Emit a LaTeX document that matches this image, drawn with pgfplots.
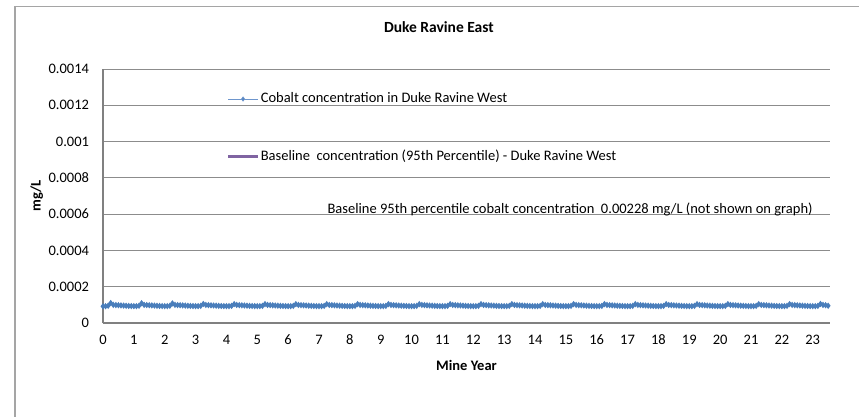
\documentclass[border=0pt]{standalone}
\usepackage{pgfplots}
\pgfplotsset{compat=1.18}
\usepackage{fontspec}
\setmainfont{Carlito}
\definecolor{cobalt}{RGB}{74,126,187}
\definecolor{cobaltlight}{RGB}{110,150,205}
\definecolor{baseline}{RGB}{128,100,162}
\definecolor{gridgray}{RGB}{140,140,140}
\definecolor{axisgray}{RGB}{128,128,128}
\definecolor{framegray}{RGB}{165,165,165}
\pgfplotsset{
    markline legend/.style={legend image code/.code={\draw[##1,draw=cobaltlight,line width=0.8pt,mark size=2pt,mark repeat=2,mark phase=2] plot coordinates {(0pt,0pt)(15pt,0pt)(30pt,0pt)};}},
    thickline legend/.style={legend image code/.code={\draw[##1] (0pt,0pt) -- (30pt,0pt);}},
}

\begin{document}
\fontsize{14.5}{17}\selectfont
\begin{tikzpicture}
\begin{axis}[
    at={(0pt,0pt)}, anchor=south west,
    scale only axis,
    width=727pt, height=254pt,
    xmin=0, xmax=23.56,
    ymin=0, ymax=0.0014,
    xtick={0,1,...,23},
    ytick={0,0.0002,0.0004,0.0006,0.0008,0.001,0.0012,0.0014},
    yticklabels={0,0.0002,0.0004,0.0006,0.0008,0.001,0.0012,0.0014},
    scaled y ticks=false,
    /pgf/number format/assume math mode=true,
    major tick length=0pt,
    axis lines*=left,
    axis line style={draw=axisgray, line width=1.6pt},
    ymajorgrids,
    major grid style={draw=gridgray, line width=0.8pt},
    xticklabel style={yshift=-6.5pt, text height=9.5pt, text depth=0pt},
    yticklabel style={xshift=-9pt},
    title={Duke Ravine East},
    title style={font=\bfseries\fontsize{15.5}{18}\selectfont, at={(axis description cs:0.462,1.14)}, anchor=center},
    xlabel={Mine Year},
    xlabel style={font=\bfseries, at={(axis description cs:0.5,-0.169)}, anchor=center},
    ylabel={mg/L},
    ylabel style={font=\bfseries, at={(axis description cs:-0.091,0.5)}, anchor=center, rotate=0},
    legend cell align=left,
    legend style={at={(axis description cs:0.17,0.768)}, anchor=west,
        draw=none, fill=none, inner sep=0pt, row sep=42pt,
        nodes={inner sep=1.5pt, anchor=west}},
]
\addplot[color=cobalt, line width=1pt, mark=diamond*, mark size=2.4pt, markline legend]
coordinates {
(0,9.2e-5)(0.083,9.25e-5)(0.167,9.5e-5)(0.25,1.1e-4)(0.333,1.0e-4)(0.417,9.9e-5)(0.5,9.8e-5)(0.583,9.7e-5)(0.667,9.6e-5)(0.75,9.5e-5)(0.833,9.4e-5)(0.917,9.35e-5)
(1,9.3e-5)(1.083,9.3e-5)(1.167,9.5e-5)(1.25,1.09e-4)(1.333,1.0e-4)(1.417,9.9e-5)(1.5,9.8e-5)(1.583,9.7e-5)(1.667,9.6e-5)(1.75,9.5e-5)(1.833,9.4e-5)(1.917,9.35e-5)
(2,9.3e-5)(2.083,9.3e-5)(2.167,9.5e-5)(2.25,1.08e-4)(2.333,1.0e-4)(2.417,9.9e-5)(2.5,9.8e-5)(2.583,9.7e-5)(2.667,9.6e-5)(2.75,9.5e-5)(2.833,9.4e-5)(2.917,9.35e-5)
(3,9.3e-5)(3.083,9.3e-5)(3.167,9.45e-5)(3.25,1.05e-4)(3.333,9.95e-5)(3.417,9.85e-5)(3.5,9.75e-5)(3.583,9.65e-5)(3.667,9.55e-5)(3.75,9.45e-5)(3.833,9.38e-5)(3.917,9.32e-5)
(4,9.3e-5)(4.083,9.3e-5)(4.167,9.45e-5)(4.25,1.04e-4)(4.333,9.95e-5)(4.417,9.85e-5)(4.5,9.75e-5)(4.583,9.65e-5)(4.667,9.55e-5)(4.75,9.45e-5)(4.833,9.38e-5)(4.917,9.32e-5)
(5,9.3e-5)(5.083,9.3e-5)(5.167,9.45e-5)(5.25,1.04e-4)(5.333,9.95e-5)(5.417,9.85e-5)(5.5,9.75e-5)(5.583,9.65e-5)(5.667,9.55e-5)(5.75,9.45e-5)(5.833,9.38e-5)(5.917,9.32e-5)
(6,9.3e-5)(6.083,9.3e-5)(6.167,9.45e-5)(6.25,1.04e-4)(6.333,9.95e-5)(6.417,9.85e-5)(6.5,9.75e-5)(6.583,9.65e-5)(6.667,9.55e-5)(6.75,9.45e-5)(6.833,9.38e-5)(6.917,9.32e-5)
(7,9.3e-5)(7.083,9.3e-5)(7.167,9.45e-5)(7.25,1.04e-4)(7.333,9.95e-5)(7.417,9.85e-5)(7.5,9.75e-5)(7.583,9.65e-5)(7.667,9.55e-5)(7.75,9.45e-5)(7.833,9.38e-5)(7.917,9.32e-5)
(8,9.3e-5)(8.083,9.3e-5)(8.167,9.45e-5)(8.25,1.04e-4)(8.333,9.95e-5)(8.417,9.85e-5)(8.5,9.75e-5)(8.583,9.65e-5)(8.667,9.55e-5)(8.75,9.45e-5)(8.833,9.38e-5)(8.917,9.32e-5)
(9,9.3e-5)(9.083,9.3e-5)(9.167,9.45e-5)(9.25,1.04e-4)(9.333,9.95e-5)(9.417,9.85e-5)(9.5,9.75e-5)(9.583,9.65e-5)(9.667,9.55e-5)(9.75,9.45e-5)(9.833,9.38e-5)(9.917,9.32e-5)
(10,9.3e-5)(10.083,9.3e-5)(10.167,9.45e-5)(10.25,1.04e-4)(10.333,9.95e-5)(10.417,9.85e-5)(10.5,9.75e-5)(10.583,9.65e-5)(10.667,9.55e-5)(10.75,9.45e-5)(10.833,9.38e-5)(10.917,9.32e-5)
(11,9.3e-5)(11.083,9.3e-5)(11.167,9.45e-5)(11.25,1.04e-4)(11.333,9.95e-5)(11.417,9.85e-5)(11.5,9.75e-5)(11.583,9.65e-5)(11.667,9.55e-5)(11.75,9.45e-5)(11.833,9.38e-5)(11.917,9.32e-5)
(12,9.3e-5)(12.083,9.3e-5)(12.167,9.45e-5)(12.25,1.04e-4)(12.333,9.95e-5)(12.417,9.85e-5)(12.5,9.75e-5)(12.583,9.65e-5)(12.667,9.55e-5)(12.75,9.45e-5)(12.833,9.38e-5)(12.917,9.32e-5)
(13,9.3e-5)(13.083,9.3e-5)(13.167,9.45e-5)(13.25,1.04e-4)(13.333,9.95e-5)(13.417,9.85e-5)(13.5,9.75e-5)(13.583,9.65e-5)(13.667,9.55e-5)(13.75,9.45e-5)(13.833,9.38e-5)(13.917,9.32e-5)
(14,9.3e-5)(14.083,9.3e-5)(14.167,9.45e-5)(14.25,1.04e-4)(14.333,9.95e-5)(14.417,9.85e-5)(14.5,9.75e-5)(14.583,9.65e-5)(14.667,9.55e-5)(14.75,9.45e-5)(14.833,9.38e-5)(14.917,9.32e-5)
(15,9.3e-5)(15.083,9.3e-5)(15.167,9.45e-5)(15.25,1.04e-4)(15.333,9.95e-5)(15.417,9.85e-5)(15.5,9.75e-5)(15.583,9.65e-5)(15.667,9.55e-5)(15.75,9.45e-5)(15.833,9.38e-5)(15.917,9.32e-5)
(16,9.3e-5)(16.083,9.3e-5)(16.167,9.45e-5)(16.25,1.04e-4)(16.333,9.95e-5)(16.417,9.85e-5)(16.5,9.75e-5)(16.583,9.65e-5)(16.667,9.55e-5)(16.75,9.45e-5)(16.833,9.38e-5)(16.917,9.32e-5)
(17,9.3e-5)(17.083,9.3e-5)(17.167,9.45e-5)(17.25,1.04e-4)(17.333,9.95e-5)(17.417,9.85e-5)(17.5,9.75e-5)(17.583,9.65e-5)(17.667,9.55e-5)(17.75,9.45e-5)(17.833,9.38e-5)(17.917,9.32e-5)
(18,9.3e-5)(18.083,9.3e-5)(18.167,9.45e-5)(18.25,1.04e-4)(18.333,9.95e-5)(18.417,9.85e-5)(18.5,9.75e-5)(18.583,9.65e-5)(18.667,9.55e-5)(18.75,9.45e-5)(18.833,9.38e-5)(18.917,9.32e-5)
(19,9.3e-5)(19.083,9.3e-5)(19.167,9.45e-5)(19.25,1.04e-4)(19.333,9.95e-5)(19.417,9.85e-5)(19.5,9.75e-5)(19.583,9.65e-5)(19.667,9.55e-5)(19.75,9.45e-5)(19.833,9.38e-5)(19.917,9.32e-5)
(20,9.3e-5)(20.083,9.3e-5)(20.167,9.45e-5)(20.25,1.04e-4)(20.333,9.95e-5)(20.417,9.85e-5)(20.5,9.75e-5)(20.583,9.65e-5)(20.667,9.55e-5)(20.75,9.45e-5)(20.833,9.38e-5)(20.917,9.32e-5)
(21,9.3e-5)(21.083,9.3e-5)(21.167,9.45e-5)(21.25,1.04e-4)(21.333,9.95e-5)(21.417,9.85e-5)(21.5,9.75e-5)(21.583,9.65e-5)(21.667,9.55e-5)(21.75,9.45e-5)(21.833,9.38e-5)(21.917,9.32e-5)
(22,9.3e-5)(22.083,9.3e-5)(22.167,9.45e-5)(22.25,1.04e-4)(22.333,9.95e-5)(22.417,9.85e-5)(22.5,9.75e-5)(22.583,9.65e-5)(22.667,9.55e-5)(22.75,9.45e-5)(22.833,9.38e-5)(22.917,9.32e-5)
(23,9.3e-5)(23.083,9.3e-5)(23.167,9.45e-5)(23.25,1.05e-4)(23.333,9.95e-5)(23.417,9.8e-5)(23.5,9.5e-5)
};
\addlegendentry{Cobalt concentration in Duke Ravine West}
\addplot[color=baseline, line width=2.5pt, thickline legend]
coordinates {(0,0.00228)(23.5,0.00228)};
\addlegendentry{Baseline\ \ concentration (95th Percentile) - Duke Ravine West}
\node[anchor=east] at (rel axis cs:0.983,0.449)
    {Baseline 95th percentile cobalt concentration\ \ 0.00228 mg/L (not shown on graph)};
\end{axis}
% chart frame (runs off the page at right and bottom)
\draw[framegray, line width=1.5pt] (-88pt,-200pt) -- (-88pt,316.5pt) -- (900pt,316.5pt);
\pgfresetboundingbox
\path[use as bounding box] (-103pt,-93pt) rectangle (756pt,323pt);
\end{tikzpicture}
\end{document}
